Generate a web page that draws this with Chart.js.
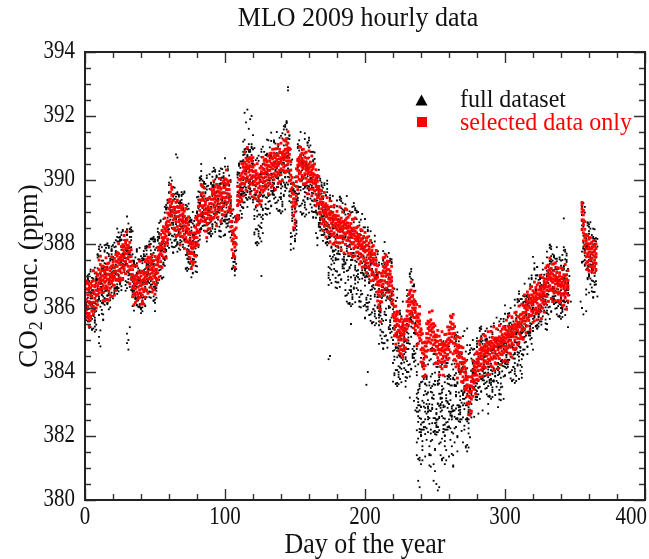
<!DOCTYPE html>
<html>
<head>
<meta charset="utf-8">
<script src="https://cdn.jsdelivr.net/npm/chart.js@4.4.1/dist/chart.umd.min.js"></script>
<style>
html,body{margin:0;padding:0;background:#fff;}
canvas{display:block;}
</style>
</head>
<body>
<canvas id="c" width="649" height="559"></canvas>
<script>
// ---- data (index of each inner list = day of the year) ----
const chartTitle = 'MLO 2009 hourly data';
const xAxisTitle = 'Day of the year';
const seriesNames = ['full dataset', 'selected data only'];
const xTickLabels = [0, 100, 200, 300, 400];
const yTickLabels = [380, 382, 384, 386, 388, 390, 392, 394];

// selected data only (ppm), readings per day
const selectedPpm = [
[386.72,386.15,385.9,386.45,386.82,385.83],[386.6,386.27,385.95,386.8,386.84,385.82],[386.41,386.05,385.7,386.58,386.76,385.75],[386.2,385.83,386.5,385.62,386.63,385.43],
[386.12,386.4,385.74,386.63,386.77,385.69],[386.35,386.02,386.7,385.9,386.83,385.91],[386.5,386.18,386.86,386.06,387.16,385.81],[386.3,386.66,386.0,386.44,386.71,385.92],
[386.55,386.22,386.8,386.38,387.1,386.0],[386.7,386.42,387.02,386.55,387.05,386.1],[386.9,386.58,387.2,386.76,387.5,386.47],[387.1,386.82,387.36,386.93,387.62,386.58],
[386.85,387.17,386.6,387.0,387.29,386.49],[386.7,387.01,386.48,386.88,387.31,386.23],[386.8,387.12,386.61,386.95,387.19,386.22],[387.0,386.69,387.27,386.84,387.57,386.6],
[386.9,387.2,386.64,387.06,387.38,386.27],[386.75,387.05,386.53,386.9,387.41,386.24],[386.85,387.16,386.62,387.0,387.26,386.41],[387.05,386.79,387.31,386.95,387.6,386.36],
[387.1,386.86,387.35,387.0,387.45,386.72],[386.95,387.25,386.71,387.12,387.55,386.4],[387.15,387.46,386.9,387.3,387.67,386.55],[387.3,387.62,387.05,387.45,387.74,386.87],
[387.4,387.7,387.16,387.52,388.01,386.88],[387.2,387.5,386.94,387.36,387.59,386.84],[387.35,387.66,387.1,387.5,387.92,386.88],[387.5,387.82,387.25,387.6,387.98,386.92],
[387.6,387.92,387.31,387.75,388.26,387.2],[387.7,388.02,387.45,387.86,388.11,387.07],[387.85,388.12,387.55,387.96,388.4,387.34],[387.6,387.91,387.3,387.74,387.95,387.16],
[387.45,387.76,387.2,387.6,388.05,386.76],[387.3,387.61,387.05,387.46,387.82,386.92],[386.9,387.2,386.62,387.04,387.34,386.35],[386.7,386.96,386.45,386.84,387.31,386.1],
[386.6,386.9,386.4,386.76,386.99,386.17],[386.75,387.02,386.5,386.86,387.32,386.23],[386.65,386.95,386.44,386.8,387.13,386.29],[386.8,387.1,386.56,386.92,387.46,386.33],
[386.7,387.0,386.46,386.85,387.11,386.12],[386.6,386.86,386.4,386.74,387.15,386.2],[386.75,387.05,386.52,386.9,387.1,386.12],[386.85,387.11,386.6,386.96,387.45,386.34],
[387.0,387.26,386.76,387.1,387.52,386.56],[387.15,387.46,386.9,387.3,387.59,386.46],[387.3,387.56,387.05,387.42,387.91,386.92],[387.2,387.5,386.96,387.35,387.59,386.65],
[387.1,387.41,386.9,387.25,387.67,386.5],[387.0,387.3,386.8,387.15,387.48,386.57],[386.95,387.2,386.74,387.06,387.61,386.43],[387.1,387.35,386.9,387.21,387.51,386.74],
[387.35,387.6,387.1,387.46,387.9,386.88],[387.55,387.81,387.3,387.66,387.9,386.97],[387.7,388.0,387.45,387.85,388.3,387.3],[387.9,388.2,387.66,388.04,388.42,387.27],
[388.1,388.36,387.85,388.2,388.54,387.59],[388.2,388.46,387.96,388.31,388.81,387.76],[388.25,388.5,388.05,388.4,388.64,387.56],[388.4,388.72,388.15,388.56,388.97,388.02],
[388.9,389.31,388.7,389.1,389.38,388.35],[389.2,389.62,388.95,389.4,389.86,388.6],[389.3,389.78,389.05,389.52,389.71,388.87],[389.0,389.36,388.75,389.15,389.55,388.48],
[388.8,389.1,388.5,388.96,389.15,388.44],[388.7,389.0,388.42,388.85,389.3,388.23],[388.85,389.16,388.55,389.0,389.37,388.27],[388.7,389.02,388.45,388.86,389.14,388.3],
[388.6,388.9,388.35,388.76,389.21,387.97],[388.75,389.06,388.5,388.9,389.14,388.24],[388.65,388.95,388.41,388.8,389.22,388.21],[388.55,388.86,388.3,388.7,389.03,387.86],
[388.45,388.7,388.2,388.56,389.11,388.07],[388.35,388.66,388.1,388.5,388.76,387.8],[388.3,388.6,388.05,388.46,388.85,387.7],[388.0,388.32,387.7,388.15,388.35,387.57],
[387.75,388.06,387.45,387.9,388.35,387.23],[387.7,388.01,387.4,387.86,388.22,387.34],[387.9,388.2,387.65,388.06,388.34,387.43],[388.2,388.52,387.95,388.35,388.81,387.62],
[388.45,388.76,388.2,388.6,388.84,388.05],[388.6,388.9,388.35,388.72,389.17,387.97],[388.9,389.21,388.7,389.05,389.38,388.39],[389.2,389.56,388.95,389.36,389.86,388.76],
[389.4,389.82,389.15,389.6,389.81,388.71],[389.2,389.5,388.95,389.36,389.75,388.82],[388.95,389.22,388.7,389.06,389.3,388.4],[388.8,389.1,388.6,388.96,389.4,388.2],
[388.9,389.16,388.65,389.0,389.42,388.47],[389.0,389.26,388.8,389.1,389.44,388.48],[389.1,389.4,388.85,389.26,389.71,388.74],[389.25,389.56,389.0,389.4,389.64,388.78],
[389.4,389.7,389.15,389.56,389.97,388.82],[389.3,389.61,389.05,389.45,389.78,388.9],[389.2,389.5,388.95,389.36,389.86,388.57],[389.35,389.66,389.1,389.5,389.76,388.84],
[389.5,389.8,389.25,389.62,390.05,389.06],[389.4,389.71,389.15,389.55,389.75,388.71],[389.3,389.6,389.05,389.46,389.9,388.92],[389.45,389.76,389.2,389.6,389.97,388.9],
[389.6,389.9,389.35,389.76,390.04,389.0],[389.7,390.01,389.45,389.85,390.31,389.27],[389.55,389.86,389.3,389.7,389.94,389.03],[389.4,389.7,389.15,389.56,389.97,389.04],
[389.0,389.36,388.7,389.2,389.48,388.53],[388.4,388.71,388.1,388.55,389.06,387.82],[388.0,388.3,387.7,388.16,388.41,387.6],[387.9,388.26,387.6,388.05,388.45,387.27],
[388.5,388.86,388.2,388.7,388.85,387.99],[389.2,389.5,388.9,389.36,389.8,388.76],[389.5,389.81,389.3,389.65,390.02,388.81],[389.7,390.0,389.45,389.86,390.14,389.32],
[389.9,390.21,389.7,390.05,390.51,389.35],[390.1,390.4,389.9,390.26,390.49,389.5],[390.3,390.56,390.05,390.4,390.87,389.87],[390.2,390.5,389.95,390.36,390.68,389.68],
[390.35,390.61,390.1,390.45,391.01,389.99],[390.25,390.56,390.0,390.4,390.66,389.78],[390.15,390.45,389.9,390.31,390.7,389.57],[390.3,390.6,390.05,390.42,390.65,389.9],
[390.1,390.4,389.85,390.26,390.7,389.47],[389.95,390.26,389.7,390.1,390.47,389.44],[389.85,390.15,389.6,390.01,390.29,389.41],[389.9,390.2,389.65,390.06,390.51,389.21],
[389.75,390.06,389.5,389.9,390.14,389.37],[389.8,390.1,389.55,389.96,390.37,389.25],[389.95,390.26,389.7,390.1,390.43,389.35],[390.05,390.36,389.8,390.2,390.71,389.62],
[390.2,390.5,389.95,390.31,390.61,389.68],[390.1,390.46,389.85,390.25,390.65,389.74],[390.25,390.56,390.0,390.36,390.6,389.78],[390.15,390.45,389.9,390.3,390.75,389.57],
[390.3,390.6,390.05,390.41,390.82,389.9],[390.4,390.7,390.15,390.52,390.84,389.77],[390.35,390.66,390.1,390.5,390.96,389.84],[390.45,390.75,390.2,390.56,390.84,390.01],
[390.4,390.7,390.15,390.51,390.97,389.71],[390.5,390.8,390.25,390.62,390.98,390.12],[390.45,390.76,390.2,390.55,391.11,389.9],[390.55,390.85,390.3,390.66,390.96,389.95],
[390.6,390.86,390.35,390.7,391.15,390.17],[390.5,390.8,390.3,390.66,390.85,389.98],[390.65,390.9,390.4,390.76,391.25,390.29],[390.7,390.96,390.45,390.8,391.22,390.23],
[390.85,391.1,390.6,390.96,391.29,390.27],[390.9,391.15,390.7,391.01,391.51,390.5],[390.6,390.95,390.3,390.8,390.99,389.97],[390.0,390.31,389.7,390.15,390.57,389.49],
[389.6,389.9,389.3,389.76,390.08,389.16],[389.2,389.56,388.9,389.4,389.86,388.51],[389.0,389.3,388.75,389.16,389.41,388.62],[389.8,390.1,389.5,389.95,390.35,389.25],
[390.3,390.6,390.1,390.46,390.65,389.7],[390.45,390.7,390.2,390.56,391.05,390.02],[390.5,390.76,390.25,390.6,391.02,389.98],[390.4,390.66,390.15,390.5,390.84,390.04],
[390.35,390.6,390.1,390.46,390.96,389.88],[390.45,390.71,390.2,390.55,390.84,389.87],[390.3,390.56,390.05,390.4,390.87,389.9],[390.2,390.46,389.95,390.3,390.68,389.57],
[390.25,390.5,390.0,390.36,390.91,389.74],[390.15,390.41,389.95,390.25,390.56,389.71],[390.2,390.45,390.0,390.31,390.75,389.51],[390.1,390.36,389.9,390.2,390.45,389.72],
[389.9,390.16,389.65,390.0,390.5,389.35],[389.8,390.05,389.55,389.91,390.32,389.2],[389.7,389.96,389.45,389.8,390.14,389.27],[389.5,389.8,389.25,389.61,390.11,388.98],
[389.3,389.56,389.0,389.4,389.69,388.94],[389.1,389.41,388.8,389.25,389.67,388.63],[389.0,389.3,388.75,389.16,389.48,388.42],[388.95,389.2,388.7,389.05,389.61,388.55],
[388.85,389.16,388.6,389.0,389.26,388.22],[388.9,389.2,388.65,389.06,389.45,388.39],[388.8,389.1,388.55,388.95,389.15,388.36],[388.75,389.01,388.5,388.9,389.35,388.06],
[388.65,388.96,388.4,388.8,389.17,388.27],[388.55,388.86,388.3,388.7,388.99,388.0],[388.6,388.9,388.35,388.76,389.21,388.0],[388.5,388.8,388.25,388.65,388.89,388.07],
[388.45,388.76,388.2,388.6,389.02,387.93],[388.4,388.7,388.2,388.55,388.88,388.04],[388.5,388.75,388.25,388.61,389.16,388.03],[388.4,388.66,388.2,388.5,388.81,387.82],
[388.45,388.7,388.25,388.56,389.0,388.05],[388.35,388.61,388.15,388.5,388.7,387.72],[388.5,388.75,388.3,388.6,389.1,387.99],[388.55,388.81,388.35,388.66,389.07,388.11],
[388.4,388.65,388.2,388.5,388.84,387.71],[388.3,388.56,388.1,388.4,388.91,387.92],[388.25,388.5,388.05,388.36,388.64,387.7],[388.2,388.45,388.0,388.3,388.77,387.6],
[388.3,388.5,388.05,388.4,388.78,387.87],[388.15,388.41,387.95,388.25,388.81,387.63],[388.1,388.35,387.9,388.2,388.51,387.74],[388.0,388.26,387.75,388.1,388.55,387.53],
[387.95,388.2,387.7,388.06,388.3,387.37],[387.85,388.11,387.6,387.95,388.45,387.45],[387.9,388.15,387.65,388.0,388.42,387.27],[387.8,388.05,387.55,387.91,388.24,387.29],
[387.75,388.06,387.45,387.9,388.36,387.31],[387.8,388.1,387.5,387.96,388.19,387.11],[387.65,387.96,387.4,387.8,388.22,387.27],[387.55,387.85,387.3,387.71,388.03,387.0],
[387.45,387.76,387.2,387.6,388.11,386.85],[387.5,387.8,387.15,387.66,387.91,387.07],[387.4,387.7,387.05,387.55,387.95,386.88],[387.35,387.66,387.0,387.5,387.7,386.99],
[387.2,387.5,386.9,387.36,387.8,386.73],[386.8,387.1,386.5,386.96,387.32,386.22],[386.4,386.71,386.1,386.55,386.84,386.0],[386.2,386.5,385.95,386.36,386.81,385.57],
[386.7,387.0,386.5,386.86,387.09,386.19],[387.0,387.3,386.75,387.16,387.57,386.56],[387.1,387.41,386.85,387.25,387.58,386.41],[387.0,387.3,386.8,387.15,387.66,386.62],
[387.05,387.36,386.8,387.2,387.46,386.5],[386.9,387.2,386.7,387.06,387.45,386.3],[386.8,387.05,386.55,386.91,387.15,386.37],[386.7,386.96,386.5,386.85,387.3,386.18],
[386.1,386.41,385.8,386.25,386.62,385.74],[385.6,385.86,385.35,385.7,386.04,385.13],[385.45,385.76,385.2,385.6,386.06,384.87],[385.5,385.8,385.25,385.66,385.89,385.1],
[385.3,385.61,385.0,385.45,385.87,384.67],[385.1,385.4,384.8,385.26,385.58,384.59],[385.0,385.36,384.7,385.2,385.66,384.56],[385.15,385.46,384.85,385.3,385.56,384.46],
[385.05,385.36,384.75,385.2,385.6,384.67],[385.3,385.6,385.0,385.46,385.65,384.75],[385.6,385.91,385.35,385.75,386.2,385.0],[385.9,386.2,385.65,386.06,386.42,385.47],
[386.1,386.46,385.8,386.3,386.54,385.58],[386.2,386.56,385.9,386.35,386.81,385.84],[386.0,386.36,385.75,386.15,386.39,385.53],[385.95,386.26,385.7,386.1,386.52,385.37],
[385.7,386.0,385.45,385.86,386.18,385.3],[385.45,385.76,385.2,385.6,386.11,384.82],[385.4,385.7,385.15,385.56,385.81,384.89],[385.5,385.81,385.25,385.6,386.05,385.06],
[385.0,385.3,384.7,385.16,385.35,384.31],[384.6,384.91,384.3,384.75,385.2,384.22],[384.4,384.7,384.1,384.56,384.92,383.85],[384.5,384.81,384.2,384.65,384.94,383.9],
[384.9,385.2,384.65,385.06,385.51,384.47],[385.2,385.5,384.95,385.36,385.59,384.68],[385.3,385.56,385.05,385.4,385.87,384.94],[385.15,385.46,384.9,385.3,385.63,384.68],
[385.25,385.5,385.0,385.36,385.91,384.67],[385.1,385.41,384.85,385.25,385.51,384.7],[384.9,385.16,384.65,385.0,385.45,384.27],[384.8,385.1,384.55,384.96,385.15,384.29],
[384.7,384.96,384.45,384.8,385.3,384.26],[384.6,384.86,384.35,384.7,385.12,383.91],[384.55,384.86,384.3,384.7,384.99,384.17],[384.65,384.91,384.4,384.75,385.26,384.1],
[384.5,384.8,384.3,384.66,384.89,383.9],[384.6,384.86,384.35,384.7,385.17,384.17],[384.7,384.95,384.5,384.81,385.18,384.18],[384.75,385.01,384.55,384.85,385.41,384.39],
[384.9,385.2,384.7,385.06,385.31,384.43],[385.2,385.56,384.95,385.4,385.75,384.62],[385.35,385.71,385.1,385.5,385.7,384.95],[385.2,385.5,384.9,385.36,385.8,384.57],
[384.9,385.21,384.65,385.05,385.42,384.39],[384.6,384.86,384.35,384.7,385.04,384.16],[384.5,384.8,384.25,384.66,385.11,383.81],[384.45,384.76,384.2,384.6,384.84,384.07],
[384.5,384.8,384.3,384.61,385.07,383.95],[384.3,384.6,384.05,384.46,384.78,383.7],[384.1,384.41,383.85,384.25,384.76,383.67],[384.0,384.3,383.75,384.16,384.41,383.48],
[383.8,384.1,383.55,383.96,384.35,383.44],[383.5,383.76,383.25,383.6,383.85,383.03],[383.25,383.56,383.0,383.4,383.85,382.67],[383.05,383.36,382.8,383.2,383.57,382.65],
[383.4,383.7,383.15,383.56,383.84,382.77],[383.75,384.06,383.5,383.9,384.36,383.24],[383.9,384.2,383.65,384.06,384.29,383.46],[384.0,384.31,383.75,384.15,384.57,383.31],
[384.15,384.4,383.9,384.26,384.63,383.77],[384.3,384.56,384.05,384.4,384.96,383.75],[384.45,384.7,384.2,384.56,384.86,383.85],[384.5,384.76,384.25,384.6,385.05,384.07],
[384.4,384.66,384.15,384.5,384.75,383.88],[384.55,384.8,384.3,384.66,385.15,384.19],[384.6,384.86,384.35,384.7,385.12,384.13],[384.5,384.8,384.3,384.65,384.94,383.92],
[384.65,384.91,384.4,384.75,385.26,384.25],[384.55,384.86,384.35,384.7,384.94,383.92],[384.7,384.96,384.45,384.8,385.27,384.19],[384.6,384.9,384.4,384.76,385.08,384.16],
[384.75,385.01,384.5,384.85,385.41,384.06],[384.65,384.95,384.45,384.8,385.06,384.27],[384.8,385.06,384.55,384.9,385.35,384.25],[384.7,385.0,384.5,384.86,385.05,384.1],
[384.85,385.1,384.6,384.96,385.45,384.42],[384.75,385.05,384.55,384.9,385.27,384.23],[384.9,385.16,384.65,385.0,385.34,384.54],[384.8,385.1,384.6,384.96,385.41,384.33],
[384.95,385.2,384.7,385.06,385.34,384.37],[385.05,385.31,384.8,385.15,385.62,384.65],[384.95,385.25,384.75,385.1,385.43,384.32],[385.1,385.36,384.85,385.2,385.76,384.59],
[385.0,385.3,384.8,385.16,385.41,384.56],[385.15,385.41,384.9,385.25,385.7,384.46],[385.1,385.35,384.85,385.2,385.45,384.72],[385.25,385.5,385.0,385.36,385.85,384.7],
[385.35,385.61,385.1,385.45,385.87,384.75],[385.3,385.55,385.05,385.4,385.74,384.87],[385.45,385.71,385.2,385.55,386.06,384.93],[385.4,385.65,385.15,385.5,385.79,385.04],
[385.55,385.81,385.3,385.65,386.12,385.08],[385.6,385.86,385.35,385.7,386.08,385.02],[385.75,386.01,385.5,385.85,386.41,385.35],[385.85,386.1,385.6,385.96,386.26,385.22],
[385.95,386.21,385.7,386.05,386.5,385.44],[386.05,386.36,385.8,386.2,386.4,385.61],[386.0,386.3,385.75,386.16,386.6,385.31],[386.15,386.41,385.9,386.25,386.67,385.77],
[386.1,386.35,385.85,386.2,386.54,385.55],[386.2,386.46,385.95,386.3,386.81,385.6],[386.25,386.5,386.0,386.36,386.64,385.82],[386.15,386.45,385.9,386.3,386.72,385.63],
[386.3,386.56,386.05,386.4,386.78,385.94],[386.35,386.61,386.1,386.45,387.01,385.88],[386.25,386.55,386.0,386.4,386.66,385.67],[386.4,386.66,386.15,386.5,386.95,386.0],
[386.5,386.76,386.25,386.6,386.85,385.87],[386.65,386.91,386.4,386.75,387.25,386.14],[386.8,387.06,386.55,386.9,387.32,386.36],[386.9,387.16,386.65,387.0,387.34,386.21],
[386.95,387.21,386.7,387.05,387.56,386.57],[386.85,387.11,386.6,386.95,387.24,386.3],[386.8,387.06,386.55,386.9,387.37,386.2],[386.9,387.16,386.65,387.0,387.38,386.47],
[386.75,387.01,386.5,386.85,387.41,386.23],[386.85,387.11,386.6,386.95,387.26,386.49],[386.7,386.96,386.45,386.8,387.25,386.23],[386.75,387.01,386.5,386.85,387.1,386.17],
[386.65,386.91,386.4,386.75,387.25,386.25],[386.7,386.96,386.45,386.8,387.22,386.07],[386.6,386.86,386.4,386.7,387.04,386.09],[386.75,387.01,386.5,386.85,387.36,386.31],
[386.65,386.91,386.45,386.75,387.04,385.96],[386.6,386.86,386.4,386.7,387.17,386.22],[],[],[],[],[],[],[],[],[],
[389.0,389.22,388.75,389.1,389.3,388.45],[388.6,388.91,388.35,388.75,389.05,388.1],[388.2,388.46,387.95,388.3,388.7,387.75],[387.85,388.11,387.6,388.0,388.3,387.4],
[387.7,388.01,387.45,387.85,388.25,387.2],[387.6,387.91,387.35,387.75,388.15,387.15],[387.75,388.01,387.5,387.85,388.2,387.3],[387.55,387.86,387.3,387.7,388.05,387.15],
[387.65,387.91,387.4,387.75,388.1,387.25],[387.5,387.81,387.3,387.6,387.95,387.1],[387.6,387.86,387.4,387.7,388.0,387.2]
];

// full dataset (ppm), readings per day - part 1
const fullPpm = [
[385.48,385.50,387.04,386.50,385.90,386.98],[386.78,385.84,385.96,386.12,385.72,386.06],[385.96,385.84,386.78,386.20,385.76,386.88],[385.58,386.62,386.58,385.98,387.06,386.70],
[385.40,386.36,385.60,387.14,386.18,386.08],[386.38,385.66,385.34,386.82,386.48,385.32],[385.76,386.44,385.36,387.18,386.92,385.76],[385.26,386.16,385.70,385.88,385.62,385.54],
[385.32,386.78,386.84,385.48,386.80,386.92],[386.62,386.24,387.24,386.20,386.92,386.54],[385.78,386.36,386.48,386.80,387.50,386.60,384.9,385.1],[386.76,386.04,386.22,387.04,386.66,386.78,384.8,385.3],
[386.40,387.22,386.16,386.56,385.82,385.94,387.9],[386.50,385.64,387.28,385.80,386.14,385.62],[387.96,387.80,386.52,386.30,387.20,387.28],[387.38,387.02,386.54,387.98,387.88,387.18],
[387.96,386.16,387.72,388.02,386.38,386.40],[387.94,387.40,386.80,387.88,387.68,386.74],[386.86,387.02,386.62,386.96,386.86,386.74],[387.68,387.10,386.66,387.78,386.48,387.52],
[387.48,386.88,387.96,387.60,386.30,387.26],[386.50,388.04,387.08,386.98,387.28,386.56],[386.64,388.12,387.78,386.62,387.06,387.74],[386.66,388.48,388.22,387.06,386.56,387.46],
[387.00,387.18,386.92,386.84,386.62,388.08],[388.14,386.78,388.10,388.22,387.52,387.14],[388.14,387.10,387.82,387.44,386.68,387.26],[387.38,387.70,388.40,387.50,387.66,386.94],
[387.12,387.94,387.56,387.68,387.30,388.12],[387.06,387.46,386.72,386.84,387.40,386.54],[388.28,386.80,387.14,386.62,388.46,388.30,384.9,385.2],[387.02,386.80,387.70,387.78,387.88,387.52,384.7,385.0],
[387.04,388.48,388.38,387.68,388.46,386.66,385.4],[388.22,388.52,386.88,386.90,388.44,387.90],[386.60,387.68,387.48,386.54,386.66,386.82,388.4],[386.42,386.76,386.66,386.54,387.48,386.90],
[386.46,387.58,386.28,387.32,387.28,386.68],[387.76,387.40,386.10,387.06,386.30,387.84],[386.88,386.78,387.08,386.36,386.04,387.52],[387.18,386.02,386.46,387.14,386.06,387.88],
[387.62,386.46,385.96,386.86,386.40,386.58],[386.32,386.24,386.02,387.48,387.54,386.18],[387.50,387.62,386.92,386.54,387.54,386.50],[387.22,386.84,386.08,386.66,386.78,387.10],
[387.80,386.90,387.06,386.34,386.52,387.34],[387.36,387.48,387.10,387.92,386.86,387.26],[386.52,386.64,387.20,386.34,387.98,386.50],[386.84,386.32,388.16,388.00,386.72,386.50],
[387.40,387.48,387.58,387.22,386.74,388.18],[388.08,387.38,388.16,386.36,387.92,388.22],[386.58,386.60,388.14,387.60,387.00,388.08,385.9],[387.88,386.94,387.06,387.22,386.82,387.16],
[387.56,387.44,388.38,387.80,387.36,388.48],[387.18,388.22,388.18,387.58,388.66,388.30],[387.00,387.96,387.20,388.74,387.78,387.68],[387.98,387.26,386.94,388.42,388.08,386.92],
[387.36,388.04,386.96,388.78,388.52,387.36],[387.56,388.46,388.00,388.18,387.92,387.84],[387.62,389.08,389.14,387.78,389.10,389.22],[388.52,388.14,389.14,388.10,388.82,388.44],
[387.88,388.46,388.58,388.90,389.60,388.70],[388.86,388.14,388.32,389.14,388.76,388.88],[388.50,389.32,388.26,388.66,387.92,388.04],[388.60,387.74,389.38,387.90,388.24,387.72],
[389.56,389.40,388.12,387.90,388.80,388.88],[388.98,388.62,388.14,389.58,389.48,388.78,390.8],[389.56,387.76,389.32,389.62,387.98,388.00,390.7],[389.54,389.00,388.40,389.48,389.28,388.34],
[388.46,388.62,388.22,388.56,388.46,388.34],[389.28,388.70,388.26,389.38,388.08,389.12],[389.08,388.48,389.56,389.20,387.90,388.86],[388.10,389.64,388.68,388.58,388.88,388.16],
[387.24,388.72,388.38,387.22,387.66,388.34],[387.26,389.08,388.82,387.66,387.16,388.06],[387.60,387.78,387.52,387.44,387.22,388.68],[388.74,387.38,388.70,388.82,388.12,387.74],
[388.74,387.70,388.42,388.04,387.28,387.86],[387.98,388.30,389.00,388.10,388.26,387.54],[387.72,388.54,388.16,388.28,387.90,388.72],[387.66,388.06,387.32,387.44,388.00,387.14],
[388.78,387.30,387.64,387.12,388.96,388.80],[388.62,388.40,389.30,389.38,389.48,389.12],[388.64,390.08,389.98,389.28,390.06,388.26],[389.82,390.12,388.48,388.50,390.04,389.50,390.5],
[388.90,389.98,389.78,388.84,388.96,389.12],[388.72,389.06,388.96,388.84,389.78,389.20],[388.76,389.88,388.58,389.62,389.58,388.98],[390.06,389.70,388.40,389.36,388.60,390.14],
[389.18,389.08,389.38,388.66,388.34,389.82],[389.48,388.32,388.76,389.44,388.36,390.18],[389.92,388.76,388.26,389.16,388.70,388.88],[388.62,388.54,388.32,389.78,389.84,388.48],
[389.80,389.92,389.22,388.84,389.84,388.80],[389.52,389.14,388.38,388.96,389.08,389.40],[390.10,389.20,389.36,388.64,388.82,389.64],[389.26,389.38,389.00,389.82,388.76,389.16],
[388.42,388.54,389.10,388.24,389.88,388.40],[388.74,388.22,390.06,389.90,388.62,388.40],[389.30,389.38,389.48,389.12,388.64,390.08],[389.98,389.28,390.06,388.26,389.82,390.12],
[388.28,388.30,389.84,389.30,388.70,389.78],[389.58,388.64,388.76,388.92,388.52,388.86],[388.76,388.64,389.58,389.00,388.56,389.68],[388.38,389.42,389.38,388.78,389.86,389.50],
[388.20,389.16,388.40,389.94,388.98,388.88],[388.28,387.56,387.24,388.72,388.38,387.22],[387.66,388.34,387.26,389.08,388.82,387.66],[387.16,388.06,387.60,387.78,387.52,387.44],
[387.22,388.68,388.74,387.38,388.70,388.82],[389.62,389.24,390.24,389.20,389.92,389.54],[388.78,389.36,389.48,389.80,390.50,389.60],[389.76,389.04,389.22,390.04,389.66,389.78],
[389.40,390.22,389.16,389.56,388.82,388.94],[390.00,389.14,390.78,389.30,389.64,389.12,391.2],[390.96,390.80,389.52,389.30,390.20,390.28,392.1],[390.38,390.02,389.54,390.98,390.88,390.18,391.8],
[390.96,389.16,390.72,391.02,389.38,389.40,392.2],[390.94,390.40,389.80,390.88,390.68,389.74,391.6],[389.86,390.02,389.62,389.96,389.86,389.74,391.9],[390.68,390.10,389.66,390.78,389.48,390.52,392.0],
[390.48,389.88,390.96,390.60,389.30,390.26,391.4],[388.30,389.84,388.88,388.78,389.08,388.36],[388.04,389.52,389.18,388.02,388.46,389.14],[388.06,389.88,389.62,388.46,387.96,388.86],
[388.40,388.58,388.32,388.24,388.02,389.48],[389.54,388.18,389.50,389.62,388.92,388.54],[389.54,388.50,389.22,388.84,388.08,388.66,387.0],[388.78,389.10,389.80,388.90,389.06,388.34],
[389.52,390.34,389.96,390.08,389.70,390.52],[389.46,389.86,389.12,389.24,389.80,388.94],[390.58,389.10,389.44,388.92,390.76,390.60],[389.32,389.10,390.00,390.08,390.18,389.82],
[389.34,390.78,390.68,389.98,390.76,388.96],[390.52,390.82,389.18,389.20,390.74,390.20],[389.60,390.68,390.48,389.54,389.66,389.82],[389.42,389.76,389.66,389.54,390.48,389.90],
[389.46,390.58,389.28,390.32,390.28,389.68],[390.76,390.40,389.10,390.06,389.30,390.84],[389.88,389.78,390.08,389.36,389.04,390.52],[390.18,389.02,389.46,390.14,389.06,390.88],
[390.62,389.46,388.96,389.86,389.40,389.58],[389.32,389.24,389.02,390.48,390.54,389.18],[390.50,390.62,389.92,389.54,390.54,389.50],[390.22,389.84,389.08,389.66,389.78,390.10],
[391.20,390.30,390.46,389.74,389.92,390.74,391.8],[390.36,390.48,390.10,390.92,389.86,390.26,392.9,392.8,391.3],[389.52,389.64,390.20,389.34,390.98,389.50,391.4],[388.34,387.82,389.66,389.50,388.22,388.00],
[388.90,388.98,389.08,388.72,388.24,389.68],[389.58,388.88,389.66,387.86,389.42,389.72],[388.08,388.10,389.64,389.10,388.50,389.58],[389.38,388.44,388.56,388.72,388.32,388.66],
[389.56,389.44,390.38,389.80,389.36,390.48],[389.18,390.22,390.18,389.58,390.66,390.30],[389.00,389.96,389.20,390.74,389.78,389.68],[389.98,389.26,388.94,390.42,390.08,388.92],
[389.36,390.04,388.96,390.78,390.52,389.36],[388.86,389.76,389.30,389.48,389.22,389.14],[388.92,390.38,390.44,389.08,390.40,390.52],[389.82,389.44,390.44,389.40,390.12,389.74],
[388.98,389.56,389.68,390.00,390.70,389.80],[389.96,389.24,389.42,390.24,389.86,389.98],[389.60,390.42,389.36,389.76,389.02,389.14],[389.70,388.84,390.48,389.00,389.34,388.82],
[390.66,390.50,389.22,389.00,389.90,389.98],[389.18,388.82,388.34,389.78,389.68,388.98],[389.76,387.96,389.52,389.82,388.18,388.20],[389.74,389.20,388.60,389.68,389.48,388.54],
[388.66,388.82,388.42,388.76,388.66,388.54],[389.48,388.90,388.46,389.58,388.28,389.32],[389.28,388.68,389.76,389.40,388.10,389.06],[388.30,389.84,388.88,388.78,389.08,388.36],
[388.04,389.52,389.18,388.02,388.46,389.14],[388.06,389.88,389.62,388.46,387.96,388.86],[387.10,387.28,387.02,386.94,386.72,388.18,384.4,388.6],[388.24,386.88,388.20,388.32,387.62,387.24,384.5],
[388.24,387.20,387.92,387.54,386.78,387.36],[387.48,387.80,388.50,387.60,387.76,387.04],[387.22,388.04,387.66,387.78,387.40,388.22],[387.16,387.56,386.82,386.94,387.50,386.64],
[388.28,386.80,387.14,386.62,388.46,388.30],[387.02,386.80,387.70,387.78,387.88,387.52],[387.04,388.48,388.38,387.68,388.46,386.66],[388.22,388.52,386.88,386.90,388.44,387.90],
[387.30,388.38,388.18,387.24,387.36,387.52],[387.12,387.46,387.36,387.24,388.18,387.60],[386.56,387.68,386.38,387.42,387.38,386.78,389.1],[387.86,387.50,386.20,387.16,386.40,387.94],
[386.98,386.88,387.18,386.46,386.14,387.62],[387.28,386.12,386.56,387.24,386.16,387.98],[387.72,386.56,386.06,386.96,386.50,386.68,385.5],[386.42,386.34,386.12,387.58,387.64,386.28],
[387.60,387.72,387.02,386.64,387.64,386.60],[387.32,386.94,386.18,386.76,386.88,387.20],[387.90,387.00,387.16,386.44,386.62,387.44],[387.06,387.18,386.80,387.62,386.56,386.96,389.0],
[386.22,386.34,386.90,386.04,387.68,386.20],[386.54,386.02,387.86,387.70,386.42,386.20],[387.10,387.18,387.28,386.92,386.44,387.88],[387.78,387.08,387.86,386.06,387.62,387.92],
[385.68,385.70,387.24,386.70,386.10,387.18],[386.98,386.04,386.16,386.32,385.92,386.26,383.6],[386.16,386.04,386.98,386.40,385.96,387.08,384.0],[385.78,386.82,386.78,386.18,387.26,386.90],
[385.60,386.56,385.80,387.34,386.38,386.28],[386.58,385.86,385.54,387.02,386.68,385.52],[385.96,386.64,385.56,387.38,387.12,385.96],[385.46,386.36,385.90,386.08,385.82,385.74],
[385.52,386.98,387.04,385.68,387.00,387.12],[386.42,386.04,387.04,386.00,386.72,386.34],[384.88,385.46,385.58,385.90,386.60,385.70],[385.86,385.14,385.32,386.14,385.76,385.88],
[385.50,386.32,385.26,385.66,384.92,385.04],[385.60,384.74,386.38,384.90,385.24,384.72],[386.56,386.40,385.12,384.90,385.80,385.88],[385.98,385.62,385.14,386.58,386.48,385.78],
[386.56,384.76,386.32,386.62,384.98,385.00,387.6],[386.54,386.00,385.40,386.48,386.28,385.34],[385.46,385.62,385.22,385.56,385.46,385.34],[386.28,385.70,385.26,386.38,385.08,386.12],
[384.88,384.28,385.36,385.00,383.70,384.66],[383.90,385.44,384.48,384.38,384.68,383.96],[383.64,385.12,384.78,383.62,384.06,384.74],[383.66,385.48,385.22,384.06,383.56,384.46],
[384.00,384.18,383.92,383.84,383.62,385.08],[385.14,383.78,385.10,385.22,384.52,384.14],[385.14,384.10,384.82,384.44,383.68,384.26],[384.38,384.70,385.40,384.50,384.66,383.94],
[384.12,384.94,384.56,384.68,384.30,385.12],[384.06,384.46,383.72,383.84,384.40,383.54],[385.48,384.00,384.34,383.82,385.66,385.50],[384.22,384.00,384.90,384.98,385.08,384.72,386.4],
[384.24,385.68,385.58,384.88,385.66,383.86,383.2],[385.42,385.72,384.08,384.10,385.64,385.10],[384.50,385.58,385.38,384.44,384.56,384.72,386.2],[384.32,384.66,384.56,384.44,385.38,384.80,383.1],
[384.36,385.48,384.18,385.22,385.18,384.58,382.8],[384.72,384.00,381.40,383.32,381.80,384.88],[382.96,382.76,383.36,381.92,381.28,384.24,380.6],[383.56,381.24,382.12,383.48,381.32,384.96,380.4],
[384.44,382.12,381.12,382.92,382.00,382.36],[381.84,381.68,381.24,384.16,384.28,381.56],[384.20,384.44,383.04,382.28,384.28,382.20],[383.64,382.88,381.36,382.52,382.76,383.40],
[384.80,383.00,383.32,381.88,382.24,383.88],[383.12,383.36,382.60,384.24,382.12,382.92],[381.44,381.68,382.80,381.08,384.36,381.40],[382.08,381.04,384.72,384.40,381.84,381.40],
[383.20,383.36,383.56,382.84,381.88,384.76],[384.56,383.16,384.72,381.12,384.24,384.84,380.6],[381.56,381.60,384.68,383.60,382.40,384.56,380.9],[384.16,382.28,382.52,382.84,382.04,382.72,380.5],
[382.52,382.28,384.16,383.00,382.12,384.36,380.3],[381.76,383.84,383.76,382.56,384.72,384.00,380.4],[381.40,383.32,381.80,384.88,382.96,382.76],[383.36,381.92,381.28,384.24,383.56,381.24],
[382.12,383.48,381.32,384.96,384.44,382.12],[381.12,382.92,382.00,382.36,381.84,381.68,384.2],[381.24,384.16,384.28,381.56,384.20,384.44],[383.04,382.28,384.28,382.20,383.64,382.88],
[381.36,382.52,382.76,383.40,384.80,383.00],[383.32,381.88,382.24,383.88,383.12,383.36,385.0],[382.60,384.24,382.12,382.92,381.44,381.68,385.1],[382.80,381.08,384.36,381.40,382.08,381.04],
[385.12,384.80,382.24,381.80,383.60,383.76],[383.96,383.24,382.28,385.16,384.96,383.56],[385.12,381.52,384.64,385.24,381.96,382.00],[385.08,384.00,382.80,384.96,384.56,382.68],
[382.92,383.24,382.44,383.12,382.92,382.68],[384.56,383.40,382.52,384.76,382.16,384.24],[384.16,382.96,385.12,384.40,381.80,383.72],[382.20,385.28,383.36,383.16,383.76,382.32],
[381.68,384.64,383.96,381.64,382.52,383.88],[381.72,385.36,384.84,382.52,381.52,383.32],[382.40,382.76,382.24,382.08,381.64,384.56],[384.68,381.96,384.60,384.84,383.44,382.68],
[384.74,383.70,384.42,384.04,383.28,383.86,382.7],[383.98,384.30,385.00,384.10,384.26,383.54],[383.72,384.54,384.16,384.28,383.90,384.72,382.6],[383.66,384.06,383.32,383.44,384.00,383.14],
[384.78,383.30,383.64,383.12,384.96,384.80],[383.52,383.30,384.20,384.28,384.38,384.02,382.7],[383.54,384.98,384.88,384.18,384.96,383.16],[384.72,385.02,383.38,383.40,384.94,384.40],
[383.80,384.88,384.68,383.74,383.86,384.02,382.8],[383.62,383.96,383.86,383.74,384.68,384.10],[383.66,384.78,383.48,384.52,384.48,383.88],[384.96,384.60,383.30,384.26,383.50,385.04],
[384.08,383.98,384.28,383.56,383.24,384.72,382.7,383.0],[384.38,383.22,383.66,384.34,383.26,385.08],[384.82,383.66,383.16,384.06,383.60,383.78],[383.52,383.44,383.22,384.68,384.74,383.38],
[384.70,384.82,384.12,383.74,384.74,383.70],[384.42,384.04,383.28,383.86,383.98,384.30],[385.00,384.10,384.26,383.54,383.72,384.54],[384.16,384.28,383.90,384.72,383.66,384.06,382.9],
[383.32,383.44,384.00,383.14,384.78,383.30],[383.64,383.12,384.96,384.80,383.52,383.30],[384.20,384.28,384.38,384.02,383.54,384.98],[384.88,384.18,384.96,383.16,384.72,385.02],
[383.88,383.90,385.44,384.90,384.30,385.38],[385.18,384.24,384.36,384.52,384.12,384.46],[384.36,384.24,385.18,384.60,384.16,385.28],[383.98,385.02,384.98,384.38,385.46,385.10],
[383.80,384.76,384.00,385.54,384.58,384.48],[384.78,384.06,383.74,385.22,384.88,383.72],[384.16,384.84,383.76,385.58,385.32,384.16],[383.66,384.56,384.10,384.28,384.02,383.94],
[383.72,385.18,385.24,383.88,385.20,385.32],[384.62,384.24,385.24,384.20,384.92,384.54],[383.78,384.36,384.48,384.80,385.50,384.60],[384.76,384.04,384.22,385.04,384.66,384.78],
[384.40,385.22,384.16,384.56,383.82,383.94],[385.40,384.54,386.18,384.70,385.04,384.52],[386.36,386.20,384.92,384.70,385.60,385.68],[385.78,385.42,384.94,386.38,386.28,385.58],
[386.36,384.56,386.12,386.42,384.78,384.80],[386.34,385.80,385.20,386.28,386.08,385.14],[385.26,385.42,385.02,385.36,385.26,385.14],[386.08,385.50,385.06,386.18,384.88,385.92],
[385.88,385.28,386.36,386.00,384.70,385.66,387.6],[385.70,387.24,386.28,386.18,386.48,385.76,387.4],[385.44,386.92,386.58,385.42,385.86,386.54],[385.46,387.28,387.02,385.86,385.36,386.26],
[385.80,385.98,385.72,385.64,385.42,386.88],[386.94,385.58,386.90,387.02,386.32,385.94],[386.94,385.90,386.62,386.24,385.48,386.06],[386.18,386.50,387.20,386.30,386.46,385.74],
[385.92,386.74,386.36,386.48,386.10,386.92],[385.86,386.26,385.52,385.64,386.20,385.34],[386.98,385.50,385.84,385.32,387.16,387.00],[386.02,385.80,386.70,386.78,386.88,386.52],
[386.04,387.48,387.38,386.68,387.46,385.66],[387.22,387.52,385.88,385.90,387.44,386.90],[386.30,387.38,387.18,386.24,386.36,386.52],[386.12,386.46,386.36,386.24,387.18,386.60],
[386.16,387.28,385.98,387.02,386.98,386.38],[387.46,387.10,385.80,386.76,386.00,387.54],[386.58,386.48,386.78,386.06,385.74,387.22],[386.88,385.72,386.16,386.84,385.76,387.58],
[387.32,386.16,385.66,386.56,386.10,386.28],[386.02,385.94,385.72,387.18,387.24,385.88],[387.20,387.32,386.62,386.24,387.24,386.20,388.8],[386.92,386.54,385.78,386.36,386.48,386.80],
[387.50,386.60,386.76,386.04,386.22,387.04],[386.66,386.78,386.40,387.22,386.16,386.56,385.4],[386.4,387.0],[386.2],[],[],[],[],[],[],[386.2],
[388.48,387.76,387.44,388.92,388.58,387.42,389.3,386.0],[387.86,388.54,387.46,389.28,389.02,387.86,385.8],[387.36,388.26,387.80,387.98,387.72,387.64],[386.42,387.88,387.94,386.58,387.90,388.02,385.9],
[387.32,386.94,387.94,386.90,387.62,387.24],[386.48,387.06,387.18,387.50,388.20,387.30,388.4],[387.46,386.74,386.92,387.74,387.36,387.48],[387.10,387.92,386.86,387.26,386.52,386.64],
[387.20,386.34,387.98,386.50,386.84,386.32],[388.16,388.00,386.72,386.50,387.40,387.48],[387.58,387.22,386.74,388.18,388.08,387.38],[388.16,386.36,387.92]
];

// full dataset (ppm), readings per day - part 2
const fullPpm2 = [
[385.56,387.38,387.12,385.96,385.46],[386.00,386.18,385.92,385.84,385.62],[386.94,385.58,386.90,387.02,386.32],[386.84,385.80,386.52,386.14,385.38],
[386.18,386.50,387.20,386.30,386.46],[386.12,386.94,386.56,386.68,386.30],[386.16,386.56,385.82,385.94,386.50],[387.08,385.60,385.94,385.42,387.26],
[386.12,385.90,386.80,386.88,386.98],[386.24,387.68,387.58,386.88,387.66],[387.62,387.92,386.28,386.30,387.84],[386.90,387.98,387.78,386.84,386.96],
[386.42,386.76,386.66,386.54,387.48],[386.36,387.48,386.18,387.22,387.18],[387.76,387.40,386.10,387.06,386.30],[387.08,386.98,387.28,386.56,386.24],
[387.28,386.12,386.56,387.24,386.16],[387.62,386.46,385.96,386.86,386.40],[386.32,386.24,386.02,387.48,387.54],[387.80,387.92,387.22,386.84,387.84],
[387.52,387.14,386.38,386.96,387.08],[387.90,387.00,387.16,386.44,386.62],[387.36,387.48,387.10,387.92,386.86],[386.62,386.74,387.30,386.44,388.08],
[387.04,386.52,388.36,388.20,386.92],[387.40,387.48,387.58,387.22,386.74],[388.28,387.58,388.36,386.56,388.12],[386.88,386.90,388.44,387.90,387.30],
[388.28,387.34,387.46,387.62,387.22],[387.56,387.44,388.38,387.80,387.36],[387.38,388.42,388.38,387.78,388.86],[386.90,387.86,387.10,388.64,387.68],
[387.78,387.06,386.74,388.22,387.88],[386.96,387.64,386.56,388.38,388.12],[386.06,386.96,386.50,386.68,386.42],[385.92,387.38,387.44,386.08,387.40],
[386.72,386.34,387.34,386.30,387.02],[386.08,386.66,386.78,387.10,387.80],[386.96,386.24,386.42,387.24,386.86],[386.70,387.52,386.46,386.86,386.12],
[386.70,385.84,387.48,386.00,386.34],[387.56,387.40,386.12,385.90,386.80],[387.18,386.82,386.34,387.78,387.68],[387.86,386.06,387.62,387.92,386.28],
[387.94,387.40,386.80,387.88,387.68],[387.06,387.22,386.82,387.16,387.06],[387.98,387.40,386.96,388.08,386.78],[387.68,387.08,388.16,387.80,386.50],
[386.60,388.14,387.18,387.08,387.38],[386.24,387.72,387.38,386.22,386.66],[386.26,388.08,387.82,386.66,386.16],[386.70,386.88,386.62,386.54,386.32],
[388.14,386.78,388.10,388.22,387.52],[388.34,387.30,388.02,387.64,386.88],[387.68,388.00,388.70,387.80,387.96],[387.62,388.44,388.06,388.18,387.80],
[387.76,388.16,387.42,387.54,388.10],[388.98,387.50,387.84,387.32,389.16],[387.82,387.60,388.50,388.58,388.68],[387.94,389.38,389.28,388.58,389.36],
[389.62,389.92,388.28,388.30,389.84],[389.00,390.08,389.88,388.94,389.06],[388.92,389.26,389.16,389.04,389.98],[388.66,389.78,388.48,389.52,389.48],
[389.76,389.40,388.10,389.06,388.30],[388.78,388.68,388.98,388.26,387.94],[389.18,388.02,388.46,389.14,388.06],[389.52,388.36,387.86,388.76,388.30],
[388.12,388.04,387.82,389.28,389.34],[389.50,389.62,388.92,388.54,389.54],[389.12,388.74,387.98,388.56,388.68],[389.60,388.70,388.86,388.14,388.32],
[388.66,388.78,388.40,389.22,388.16],[387.72,387.84,388.40,387.54,389.18],[387.94,387.42,389.26,389.10,387.82],[388.20,388.28,388.38,388.02,387.54],
[388.68,387.98,388.76,386.96,388.52],[387.08,387.10,388.64,388.10,387.50],[388.58,387.64,387.76,387.92,387.52],[388.06,387.94,388.88,388.30,387.86],
[387.98,389.02,388.98,388.38,389.46],[387.90,388.86,388.10,389.64,388.68],[389.18,388.46,388.14,389.62,389.28],[388.86,389.54,388.46,390.28,390.02],
[388.56,389.46,389.00,389.18,388.92],[388.42,389.88,389.94,388.58,389.90],[389.12,388.74,389.74,388.70,389.42],[388.08,388.66,388.78,389.10,389.80],
[389.16,388.44,388.62,389.44,389.06],[388.90,389.72,388.66,389.06,388.32],[389.10,388.24,389.88,388.40,388.74],[390.26,390.10,388.82,388.60,389.50],
[389.78,389.42,388.94,390.38,390.28],[390.26,388.46,390.02,390.32,388.68],[390.14,389.60,389.00,390.08,389.88],[389.26,389.42,389.02,389.36,389.26],
[390.18,389.60,389.16,390.28,388.98],[389.88,389.28,390.36,390.00,388.70],[388.80,390.34,389.38,389.28,389.58],[388.74,390.22,389.88,388.72,389.16],
[388.86,390.68,390.42,389.26,388.76],[389.30,389.48,389.22,389.14,388.92],[390.34,388.98,390.30,390.42,389.72],[390.14,389.10,389.82,389.44,388.68],
[388.98,389.30,390.00,389.10,389.26],[388.12,388.94,388.56,388.68,388.30],[387.66,388.06,387.32,387.44,388.00],[388.68,387.20,387.54,387.02,388.86],
[388.02,387.80,388.70,388.78,388.88],[388.74,390.18,390.08,389.38,390.16],[390.22,390.52,388.88,388.90,390.44],[389.50,390.58,390.38,389.44,389.56],
[389.52,389.86,389.76,389.64,390.58],[389.76,390.88,389.58,390.62,390.58],[391.26,390.90,389.60,390.56,389.80],[390.28,390.18,390.48,389.76,389.44],
[390.78,389.62,390.06,390.74,389.66],[391.12,389.96,389.46,390.36,389.90],[389.72,389.64,389.42,390.88,390.94],[391.00,391.12,390.42,390.04,391.04],
[390.52,390.14,389.38,389.96,390.08],[391.00,390.10,390.26,389.54,389.72],[390.06,390.18,389.80,390.62,389.56],[389.22,389.34,389.90,389.04,390.68],
[389.44,388.92,390.76,390.60,389.32],[390.00,390.08,390.18,389.82,389.34],[390.88,390.18,390.96,389.16,390.72],[389.48,389.50,391.04,390.50,389.90],
[390.88,389.94,390.06,390.22,389.82],[389.96,389.84,390.78,390.20,389.76],[389.78,390.82,390.78,390.18,391.26],[389.50,390.46,389.70,391.24,390.28],
[390.58,389.86,389.54,391.02,390.68],[390.06,390.74,389.66,391.48,391.22],[389.56,390.46,390.00,390.18,389.92],[389.72,391.18,391.24,389.88,391.20],
[390.52,390.14,391.14,390.10,390.82],[389.78,390.36,390.48,390.80,391.50],[390.76,390.04,390.22,391.04,390.66],[390.50,391.32,390.26,390.66,389.92],
[390.60,389.74,391.38,389.90,390.24],[391.46,391.30,390.02,389.80,390.70],[391.08,390.72,390.24,391.68,391.58],[391.66,389.86,391.42,391.72,390.08],
[391.84,391.30,390.70,391.78,391.58],[390.76,390.92,390.52,390.86,390.76],[391.28,390.70,390.26,391.38,390.08],[390.48,389.88,390.96,390.60,389.30],
[388.80,390.64,389.68,389.58,389.88],[388.44,389.92,389.58,388.42,388.86],[388.26,390.08,389.82,388.66,388.16],[389.40,389.58,389.32,389.24,389.02],
[391.04,389.68,391.00,391.12,390.42],[391.24,390.20,390.92,390.54,389.78],[390.48,390.80,391.50,390.60,390.76],[390.12,390.94,390.56,390.68,390.30],
[390.06,390.46,389.72,389.84,390.40],[391.28,389.80,390.14,389.62,391.46],[389.82,389.60,390.50,390.58,390.68],[389.74,391.18,391.08,390.38,391.16],
[391.02,391.32,389.68,389.70,391.24],[390.00,391.08,390.88,389.94,390.06],[389.82,390.16,390.06,389.94,390.88],[389.76,390.88,389.58,390.62,390.58],
[390.86,390.50,389.20,390.16,389.40],[389.88,389.78,390.08,389.36,389.04],[390.08,388.92,389.36,390.04,388.96],[390.32,389.16,388.66,389.56,389.10],
[388.82,388.74,388.52,389.98,390.04],[389.80,389.92,389.22,388.84,389.84],[389.42,389.04,388.28,388.86,388.98],[389.90,389.00,389.16,388.44,388.62],
[388.96,389.08,388.70,389.52,388.46],[388.16,389.98,389.72,388.56,388.06],[388.40,388.58,388.32,388.24,388.02],[389.44,388.08,389.40,389.52,388.82],
[389.34,388.30,389.02,388.64,387.88],[388.48,388.80,389.50,388.60,388.76],[388.32,389.14,388.76,388.88,388.50],[388.16,388.56,387.82,387.94,388.50],
[389.18,387.70,388.04,387.52,389.36],[387.92,387.70,388.60,388.68,388.78],[388.04,389.48,389.38,388.68,389.46],[389.12,389.42,387.78,387.80,389.34],
[388.20,389.28,389.08,388.14,388.26],[387.52,388.98,389.04,387.68,389.00],[388.62,388.24,389.24,388.20,388.92],[387.78,388.36,388.48,388.80,389.50],
[388.66,387.94,388.12,388.94,388.56],[388.20,389.02,387.96,388.36,387.62],[388.20,387.34,388.98,387.50,387.84],[389.16,389.00,387.72,387.50,388.40],
[388.68,388.32,387.84,389.28,389.18],[389.06,387.26,388.82,389.12,387.48],[389.04,388.50,387.90,388.98,388.78],[388.16,388.28,387.88,388.24,388.14],
[388.58,388.00,387.56,388.68,387.38],[388.28,387.68,388.76,388.40,387.10],[387.40,388.94,387.98,387.88,388.18],[387.04,388.52,388.18,387.02,387.46],
[386.96,388.78,388.52,387.36,386.86],[387.40,387.58,387.32,387.24,387.02],[388.44,387.08,388.40,388.52,387.82],[388.24,387.20,387.92,387.54,386.78],
[387.38,387.70,388.40,387.50,387.66],[387.22,388.04,387.66,387.78,387.40],[387.06,387.46,386.72,386.84,387.40],[388.08,386.60,386.94,386.42,388.26],
[386.72,386.50,387.40,387.48,387.58],[386.34,387.78,387.68,386.98,387.76],[387.12,387.42,385.78,385.80,387.34],[386.00,387.08,386.88,385.94,386.06],
[386.32,386.66,386.56,386.44,387.38],[386.66,387.78,386.48,387.52,387.48],[388.06,387.70,386.40,387.36,386.60],[387.08,386.98,387.28,386.56,386.24],
[387.48,386.32,386.76,387.44,386.36],[387.72,386.56,386.06,386.96,386.50],[386.32,386.24,386.02,387.48,387.54],[387.40,387.52,386.82,386.44,387.44],
[386.52,386.14,385.38,385.96,386.08],[386.60,385.70,385.86,385.14,385.32],[385.66,385.78,385.40,386.22,385.16],[384.76,386.58,386.32,385.16,384.66],
[384.90,385.08,384.82,384.74,384.52],[385.84,384.48,385.80,385.92,385.22],[385.74,384.70,385.42,385.04,384.28],[385.18,385.50,386.20,385.30,385.46],
[384.82,385.64,385.26,385.38,385.00],[384.96,385.36,384.62,384.74,385.30],[386.38,384.90,385.24,384.72,386.56],[385.42,385.20,386.10,386.18,386.28],
[385.64,387.08,386.98,386.28,387.06],[386.92,387.22,385.58,385.60,387.14],[385.80,386.88,386.68,385.74,385.86],[385.22,386.68,386.74,385.38,386.70],
[385.92,385.54,386.54,385.50,386.22],[382.18,382.76,382.88,383.20,383.90],[383.16,382.44,382.62,383.44,383.06],[382.80,383.62,382.56,382.96,382.22],
[382.90,382.04,383.68,382.20,382.54],[383.86,383.70,382.42,382.20,383.10],[383.28,382.92,382.44,383.88,383.78],[383.86,382.06,383.62,383.92,382.28],
[383.84,383.30,382.70,383.78,383.58],[382.76,382.92,382.52,382.86,382.76],[383.58,383.00,382.56,383.68,382.38],[383.38,382.78,383.86,383.50,382.20],
[382.40,383.94,382.98,382.88,383.18],[382.14,383.62,383.28,382.12,382.56],[382.16,383.98,383.72,382.56,382.06],[382.50,382.68,382.42,382.34,382.12],
[383.64,382.28,383.60,383.72,383.02],[383.64,382.60,383.32,382.94,382.18],[382.88,383.20,383.90,383.00,383.16],[382.62,383.44,383.06,383.18,382.80],
[382.56,382.96,382.22,382.34,382.90],[383.68,382.20,382.54,382.02,383.86],[382.42,382.20,383.10,383.18,383.28],[382.44,383.88,383.78,383.08,383.86],
[383.62,383.92,382.28,382.30,383.84],[382.70,383.78,383.58,382.64,382.76],[382.52,382.86,382.76,382.64,383.58],[382.96,384.08,382.78,383.82,383.78],
[384.26,383.90,382.60,383.56,382.80],[383.38,383.28,383.58,382.86,382.54],[383.68,382.52,382.96,383.64,382.56],[384.12,382.96,382.46,383.36,382.90],
[382.82,382.74,382.52,383.98,384.04],[384.00,384.12,383.42,383.04,384.04],[383.72,383.34,382.58,383.16,383.28],[384.30,383.40,383.56,382.84,383.02],
[383.46,383.58,383.20,384.02,382.96],[382.56,384.38,384.12,382.96,382.46],[382.90,383.08,382.82,382.74,382.52],[383.50,382.68,383.40,383.52,382.82],
[384.04,383.00,383.72,383.34,382.58],[383.68,384.00,384.70,383.80,383.96],[383.52,384.34,383.96,384.08,383.70],[383.56,383.96,383.22,383.34,383.90],
[384.88,383.40,383.74,383.22,385.06],[383.72,383.50,384.40,384.48,384.58],[383.94,385.38,385.28,384.58,385.36],[385.12,385.42,383.78,383.80,385.34],
[384.10,385.18,384.98,384.04,384.16],[384.12,384.46,384.36,384.24,385.18],[384.16,385.28,383.98,385.02,384.98],[385.36,385.00,383.70,384.66,383.90],
[384.68,384.58,384.88,384.16,383.84],[384.88,383.72,384.16,384.84,383.76],[385.42,384.26,383.76,384.66,384.20],[384.02,383.94,383.72,385.18,385.24],
[385.40,385.52,384.82,384.44,385.44],[385.02,384.64,383.88,384.46,384.58],[385.70,384.80,384.96,384.24,384.42],[384.76,384.88,384.50,385.32,384.26],
[384.12,384.24,384.80,383.94,385.58],[384.34,383.82,385.66,385.50,384.22],[385.00,385.08,385.18,384.82,384.34],[385.58,384.88,385.66,383.86,385.42],
[384.26,386.08,385.82,384.66,384.16],[384.70,384.88,384.62,384.54,384.32],[385.74,384.38,385.70,385.82,385.12],[385.84,384.80,385.52,385.14,384.38],
[384.98,385.30,386.00,385.10,385.26],[384.92,385.74,385.36,385.48,385.10],[384.76,385.16,384.42,384.54,385.10],[386.08,384.60,384.94,384.42,386.26],
[384.92,384.70,385.60,385.68,385.78],[384.84,386.28,386.18,385.48,386.26],[386.22,386.52,384.88,384.90,386.44],[385.20,386.28,386.08,385.14,385.26],
[385.22,385.56,385.46,385.34,386.28],[385.26,386.38,385.08,386.12,386.08],[386.76,386.40,385.10,386.06,385.30],[385.98,385.88,386.18,385.46,385.14],
[386.38,385.22,385.66,386.34,385.26],[386.92,385.76,385.26,386.16,385.70],[385.52,385.44,385.22,386.68,386.74],[386.90,387.02,386.32,385.94,386.94],
[386.52,386.14,385.38,385.96,386.08],[387.20,386.30,386.46,385.74,385.92],[386.46,386.58,386.20,387.02,385.96],[385.46,387.28,387.02,385.86,385.36],
[385.90,386.08,385.82,385.74,385.52],[386.60,386.68,386.78,386.42,385.94],[387.04,386.00,386.72,386.34,385.58],[386.38,386.70,387.40,386.50,386.66],
[386.22,387.04,386.66,386.78,386.40],[386.36,386.76,386.02,386.14,386.70],[387.58,386.10,386.44,385.92,387.76],[386.42,386.20,387.10,387.18,387.28],
[386.54,387.98,387.88,387.18,387.96],[387.62,387.92,386.28,386.30,387.84],[386.60,387.68,387.48,386.54,386.66],[386.12,387.58,387.64,386.28,387.60],
[386.92,386.54,387.54,386.50,387.22],[386.18,386.76,386.88,387.20,387.90],[386.96,386.24,386.42,387.24,386.86],[386.70,387.52,386.46,386.86,386.12],
[386.70,385.84,387.48,386.00,386.34],[387.66,387.50,386.22,386.00,386.90],[387.30,386.94,386.46,387.90,387.80],[387.76,385.96,387.52,387.82,386.18],
[387.70,387.16,386.56,387.64,387.44],[386.46,386.62,386.22,386.56,386.46],[],[],[],[],[],[],[],[],[],
[388.72,389.20,389.16,389.28,388.90],[388.26,388.66,387.92,388.04,388.60],[388.98,387.50,387.84,387.32,389.16],[387.42,387.20,388.10,388.18,388.28],
[387.24,388.68,388.58,387.88,388.66],[388.32,388.62,386.98,387.00,388.54],[387.60,388.68,388.48,387.54,387.66],[387.22,387.56,387.46,387.34,388.28],
[387.36,388.48,387.18,388.22,388.18],[388.46,388.10,386.80,387.76,387.00],[387.68,387.58,387.88,387.16,386.84]
];

// ---- build points: x = day of year (list index), y = reading ----
function toPoints(lists) {
  const pts = [];
  lists.forEach((vals, day) => vals.forEach(v => pts.push({x: day, y: v})));
  return pts;
}

const SERIF = '"Liberation Serif", "Times New Roman", serif';

function drawText(ctx, s, x, y, size, color, align, sy) {
  ctx.save();
  ctx.font = size + 'px ' + SERIF;
  if (align === 'center') {
    const w = ctx.measureText(s).width;
    x = Math.min(x, 649 - w / 2 - 2);
  }
  ctx.translate(x, y);
  ctx.scale(1, sy);
  ctx.fillStyle = color;
  ctx.textAlign = align;
  ctx.textBaseline = 'middle';
  ctx.fillText(s, 0, 0);
  ctx.restore();
}

const framePlugin = {
  id: 'frame',
  afterDatasetsDraw(chart) {
    const ctx = chart.ctx;
    const {left, right, top, bottom} = chart.chartArea;
    const xs = chart.scales.x, ys = chart.scales.y;
    ctx.save();
    ctx.strokeStyle = '#333';
    ctx.lineWidth = 1.4;
    ctx.beginPath();
    for (let v = xTickLabels[0]; v <= xTickLabels[xTickLabels.length - 1]; v += 20) {
      const px = Math.round(xs.getPixelForValue(v)) + 0.5;
      const len = (v % 100 === 0) ? 11 : 6;
      ctx.moveTo(px, bottom); ctx.lineTo(px, bottom - len);
      ctx.moveTo(px, top); ctx.lineTo(px, top + len);
    }
    for (let v = yTickLabels[0]; v <= yTickLabels[yTickLabels.length - 1] + 1e-9; v += 0.5) {
      const py = Math.round(ys.getPixelForValue(v)) + 0.5;
      const len = (Math.abs(v % 2) < 1e-9) ? 11 : 6;
      ctx.moveTo(left, py); ctx.lineTo(left + len, py);
      ctx.moveTo(right, py); ctx.lineTo(right - len, py);
    }
    ctx.stroke();
    ctx.lineWidth = 2;
    ctx.strokeStyle = '#222';
    ctx.strokeRect(left, top, right - left, bottom - top);

    xTickLabels.forEach(v => drawText(ctx, String(v), xs.getPixelForValue(v), bottom + 18, 21, '#111', 'center', 1.15));
    yTickLabels.forEach(v => drawText(ctx, String(v), left - 10, ys.getPixelForValue(v), 21, '#111', 'right', 1.15));

    drawText(ctx, chartTitle, 358, 19, 26, '#111', 'center', 1.05);
    drawText(ctx, xAxisTitle, (left + right) / 2, 545, 26, '#111', 'center', 1.1);

    ctx.save();
    ctx.translate(28, 276);
    ctx.rotate(-Math.PI / 2);
    ctx.fillStyle = '#111';
    ctx.textBaseline = 'alphabetic';
    const big = '27px ' + SERIF, small = '18px ' + SERIF;
    ctx.font = big; const w1 = ctx.measureText('CO').width;
    ctx.font = small; const w2 = ctx.measureText('2').width;
    ctx.font = big; const w3 = ctx.measureText(' conc. (ppm)').width;
    const x0 = -(w1 + w2 + w3) / 2;
    ctx.font = big; ctx.fillText('CO', x0, 9);
    ctx.font = small; ctx.fillText('2', x0 + w1, 14);
    ctx.font = big; ctx.fillText(' conc. (ppm)', x0 + w1 + w2, 9);
    ctx.restore();

    ctx.fillStyle = '#000';
    ctx.beginPath();
    ctx.moveTo(421.5, 94.5); ctx.lineTo(427.5, 105.5); ctx.lineTo(415.5, 105.5); ctx.closePath();
    ctx.fill();
    drawText(ctx, seriesNames[0], 460, 100, 24, '#111', 'left', 1.05);
    ctx.fillStyle = '#ff0000';
    ctx.fillRect(417, 117, 10, 10);
    drawText(ctx, seriesNames[1], 460, 123, 24, '#ff0000', 'left', 1.05);
    ctx.restore();
  }
};

new Chart(document.getElementById('c'), {
  type: 'scatter',
  data: {
    datasets: [
      {
        label: seriesNames[1],
        data: toPoints(selectedPpm),
        pointStyle: 'rect',
        pointRadius: 2.0,
        pointHoverRadius: 2.0,
        borderWidth: 0,
        backgroundColor: '#ff0000',
        order: 1
      },
      {
        label: seriesNames[0],
        data: toPoints(fullPpm).concat(toPoints(fullPpm2)),
        pointStyle: 'rect',
        pointRadius: 1.3,
        pointHoverRadius: 1.3,
        borderWidth: 0,
        backgroundColor: '#000',
        order: 2
      }
    ]
  },
  options: {
    responsive: false,
    animation: false,
    devicePixelRatio: 1,
    events: [],
    layout: { padding: { left: 85, right: 4, top: 52, bottom: 59 } },
    scales: {
      x: { type: 'linear', min: 0, max: 400, display: false },
      y: { type: 'linear', min: 380, max: 394, display: false }
    },
    plugins: {
      legend: { display: false },
      tooltip: { enabled: false },
      title: { display: false }
    }
  },
  plugins: [framePlugin]
});
</script>
</body>
</html>
